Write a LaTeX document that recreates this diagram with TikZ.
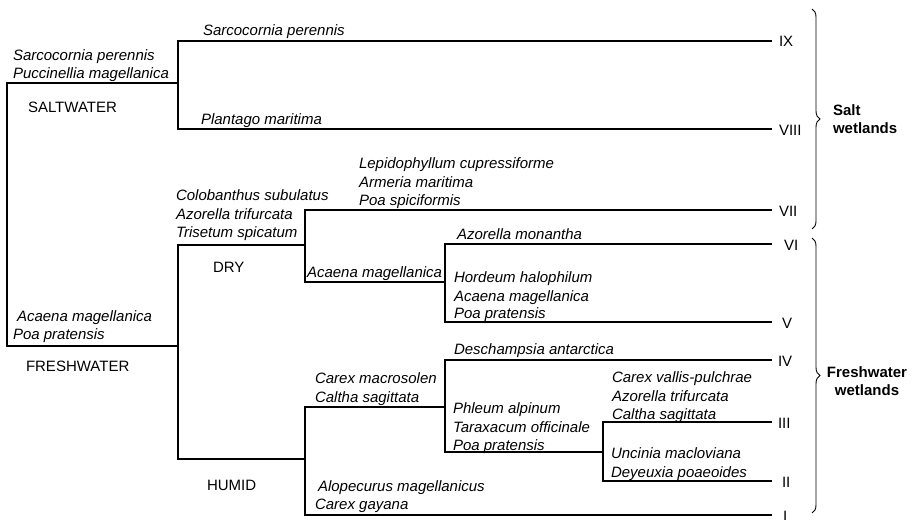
\documentclass[tikz,border=0pt]{standalone}
\usepackage{fontspec}
\setmainfont{Liberation Sans}
\usetikzlibrary{decorations.pathreplacing}
\begin{document}
\begin{tikzpicture}[x=1pt,y={(0pt,-1pt)},
  every node/.style={inner sep=0pt,outer sep=0pt,font=\fontsize{15}{18}\selectfont},
  sp/.style={anchor=base west,font=\fontsize{15}{18}\selectfont\itshape},
  grp/.style={anchor=base west},
  rn/.style={anchor=base west},
  wl/.style={anchor=base,font=\fontsize{15}{18}\selectfont\bfseries,align=center},
  ln/.style={line width=1.1pt,line cap=rect},
  br/.style={line width=0.9pt,decorate,decoration={brace,amplitude=8pt,aspect=0.5}}]
\useasboundingbox (0,0) rectangle (912,519);

% junction coordinates
\coordinate (r1) at (7,83);   \coordinate (r2) at (7,346);
\coordinate (s1) at (178,41); \coordinate (s0) at (178,83); \coordinate (s2) at (178,129);
\coordinate (e9) at (771,41); \coordinate (e8) at (771,129);
\coordinate (f1) at (178,245); \coordinate (f0) at (178,346); \coordinate (f2) at (178,459);
\coordinate (d1) at (305,210); \coordinate (d0) at (305,245); \coordinate (d2) at (305,282);
\coordinate (e7) at (771,210);
\coordinate (g1) at (445,244); \coordinate (g0) at (445,282); \coordinate (g2) at (445,322);
\coordinate (e6) at (771,244); \coordinate (e5) at (771,322);
\coordinate (h1) at (305,407); \coordinate (h0) at (305,459); \coordinate (h2) at (305,515);
\coordinate (e1) at (771,515);
\coordinate (k1) at (445,360); \coordinate (k0) at (445,407); \coordinate (k2) at (445,452);
\coordinate (e4) at (771,360);
\coordinate (m1) at (603,422); \coordinate (m0) at (603,452); \coordinate (m2) at (603,481);
\coordinate (e3) at (771,422); \coordinate (e2) at (771,481);

% dendrogram
\draw[ln] (s0) -- (r1) -- (r2) -- (f0);
\draw[ln] (e9) -- (s1) -- (s2) -- (e8);
\draw[ln] (d0) -- (f1) -- (f2) -- (h0);
\draw[ln] (e7) -- (d1) -- (d2) -- (g0);
\draw[ln] (e6) -- (g1) -- (g2) -- (e5);
\draw[ln] (k0) -- (h1) -- (h2) -- (e1);
\draw[ln] (e4) -- (k1) -- (k2) -- (m0);
\draw[ln] (e3) -- (m1) -- (m2) -- (e2);

% species labels
\node[sp] (t1) at (203,36) {Sarcocornia perennis};
\node[sp] (t2) at (13,60) {Sarcocornia perennis};
\node[sp] (t3) at (13,78) {Puccinellia magellanica};
\node[grp] (t4) at (28,112) {SALTWATER};
\node[sp] (t5) at (201,124) {Plantago maritima};
\node[sp] (t6) at (359,168) {Lepidophyllum cupressiforme};
\node[sp] (t7) at (359,187) {Armeria maritima};
\node[sp] (t8) at (359,205) {Poa spiciformis};
\node[sp] (t9) at (176,200) {Colobanthus subulatus};
\node[sp] (t10) at (176,219) {Azorella trifurcata};
\node[sp] (t11) at (176,237) {Trisetum spicatum};
\node[sp] (t12) at (457,239) {Azorella monantha};
\node[grp] (t13) at (213,272) {DRY};
\node[sp] (t14) at (307,277) {Acaena magellanica};
\node[sp] (t15) at (454,282) {Hordeum halophilum};
\node[sp] (t16) at (454,301) {Acaena magellanica};
\node[sp] (t17) at (454,318) {Poa pratensis};
\node[sp] (t18) at (17,321) {Acaena magellanica};
\node[sp] (t19) at (13,339) {Poa pratensis};
\node[sp] (t20) at (454,354) {Deschampsia antarctica};
\node[grp] (t21) at (26,371) {FRESHWATER};
\node[sp] (t22) at (315,383) {Carex macrosolen};
\node[sp] (t23) at (315,402) {Caltha sagittata};
\node[sp] (t24) at (612,382) {Carex vallis-pulchrae};
\node[sp] (t25) at (612,401) {Azorella trifurcata};
\node[sp] (t26) at (612,419) {Caltha sagittata};
\node[sp] (t27) at (453,413) {Phleum alpinum};
\node[sp] (t28) at (453,432) {Taraxacum officinale};
\node[sp] (t29) at (453,450) {Poa pratensis};
\node[sp] (t30) at (611,458) {Uncinia macloviana};
\node[sp] (t31) at (611,477) {Deyeuxia poaeoides};
\node[grp] (t32) at (207,490) {HUMID};
\node[sp] (t33) at (318,491) {Alopecurus magellanicus};
\node[sp] (t34) at (315,509) {Carex gayana};

% roman numerals
\node[rn] (n9) at (779,47) {IX};
\node[rn] (n8) at (779,135) {VIII};
\node[rn] (n7) at (779,216) {VII};
\node[rn] (n6) at (784,250) {VI};
\node[rn] (n5) at (782,328) {V};
\node[rn] (n4) at (778,366) {IV};
\node[rn] (n3) at (778,428) {III};
\node[rn] (n2) at (782,487) {II};
\node[rn] (n1) at (783,521) {I};

% braces
\coordinate (b1) at (812,9);   \coordinate (b2) at (812,229);
\coordinate (b3) at (812,238); \coordinate (b4) at (812,513);
\draw[br] (b1) -- (b2);
\draw[br] (b3) -- (b4);
\node[anchor=base west,font=\fontsize{15}{18}\selectfont\bfseries,align=left] (w1) at (833,133) {Salt\\wetlands};
\node[wl] (w2) at (867,395) {Freshwater\\wetlands};
\end{tikzpicture}
\end{document}
